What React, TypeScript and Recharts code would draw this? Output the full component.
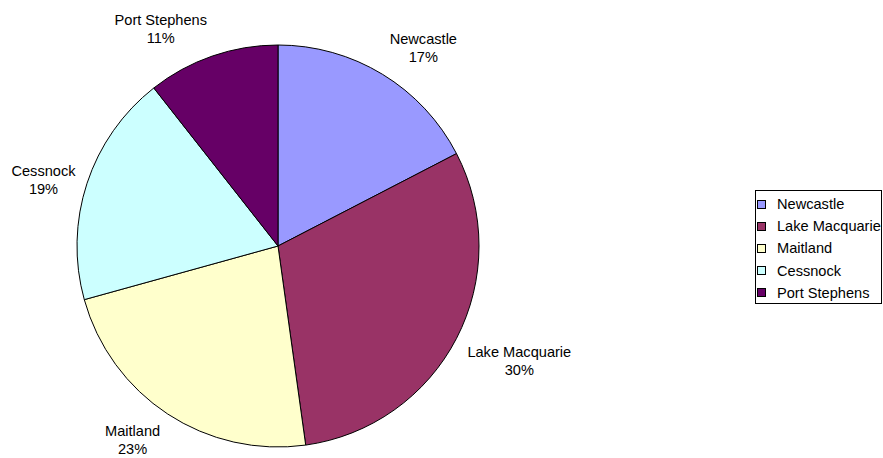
import React from "react";
import { PieChart, Pie, Cell, Legend } from "recharts";

const regions = ["Newcastle", "Lake Macquarie", "Maitland", "Cessnock", "Port Stephens"];
const shares = [17.4, 30.4, 22.9, 18.7, 10.6];
const colors = ["#9999FF", "#993366", "#FFFFCC", "#CCFFFF", "#660066"];

const data = regions.map((name, i) => ({ name, value: shares[i] }));

const FONT = "'Liberation Sans', Arial, sans-serif";
const FS = 14.6;
const RAD = Math.PI / 180;

let ctx: CanvasRenderingContext2D | null = null;
function measure(t: string): number {
  if (!ctx && typeof document !== "undefined") {
    const c = document.createElement("canvas");
    ctx = c.getContext("2d");
  }
  if (ctx) {
    ctx.font = `${FS}px 'Liberation Sans', Arial, sans-serif`;
    return ctx.measureText(t).width;
  }
  return t.length * 7.8;
}

const renderLabel = (props: any) => {
  const { cx, cy, midAngle, outerRadius, name, percent } = props;
  const pct = `${Math.round(percent * 100)}%`;
  const w = Math.max(measure(name), measure(pct)) + 4;
  const h = 36;
  const ux = Math.cos(-midAngle * RAD);
  const uy = Math.sin(-midAngle * RAD);
  const r = outerRadius + 10;
  const ax = cx + r * ux;
  const ay = cy + r * uy;
  const fx = Math.abs(ux) < 0.25 ? 0 : Math.sign(ux);
  const fy = Math.abs(uy) < 0.35 ? 0 : Math.sign(uy);
  const lx = ax + (w / 2) * fx;
  const ly = ay + (h / 2) * fy;
  return (
    <text x={lx} y={ly} textAnchor="middle" fontSize={FS} fontFamily={FONT} fill="#000">
      <tspan x={lx} dy={-9} dominantBaseline="central">{name}</tspan>
      <tspan x={lx} dy={18} dominantBaseline="central">{pct}</tspan>
    </text>
  );
};

const renderLegend = () => (
  <div
    style={{
      border: "1px solid #000",
      width: 125,
      height: 110,
      boxSizing: "content-box",
      fontFamily: FONT,
      fontSize: FS,
      color: "#000",
      background: "#fff",
      paddingTop: 2,
    }}
  >
    {regions.map((name, i) => (
      <div key={name} style={{ display: "flex", alignItems: "center", height: 22.2, paddingLeft: 1 }}>
        <span
          style={{
            display: "inline-block",
            width: 7,
            height: 7,
            border: "1px solid #000",
            background: colors[i],
            marginRight: 11,
            flex: "none",
          }}
        />
        <span style={{ whiteSpace: "nowrap" }}>{name}</span>
      </div>
    ))}
  </div>
);

export default function App() {
  return (
    <div style={{ position: "absolute", left: 0, top: 0, width: 883, height: 458, background: "#fff" }}>
      <PieChart width={883} height={458} margin={{ top: 0, right: 0, bottom: 0, left: 0 }}>
        <Pie
          data={data}
          dataKey="value"
          nameKey="name"
          cx={278}
          cy={246}
          outerRadius={201}
          startAngle={90}
          endAngle={-270}
          stroke="#000"
          strokeWidth={1}
          label={renderLabel}
          labelLine={false}
          isAnimationActive={false}
        >
          {data.map((d, i) => (
            <Cell key={d.name} fill={colors[i]} />
          ))}
        </Pie>
        <Legend
          content={renderLegend}
          wrapperStyle={{ position: "absolute", left: 755, top: 190, width: 127, height: 112 }}
        />
      </PieChart>
    </div>
  );
}
